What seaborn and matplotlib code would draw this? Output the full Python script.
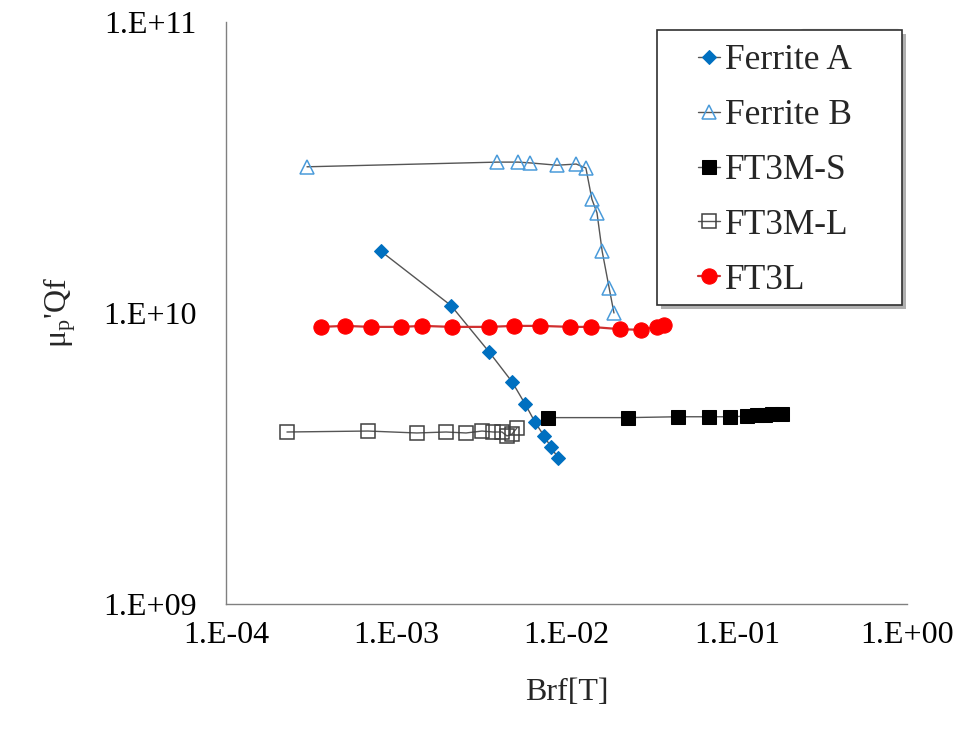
import matplotlib
matplotlib.use("Agg")
import matplotlib.pyplot as plt
import seaborn as sns
from matplotlib.ticker import FixedLocator, NullLocator
from matplotlib.patches import Rectangle

# ---------------- data ----------------
ferrite_a_x = [8.13e-4, 2.10e-3, 3.51e-3, 4.79e-3, 5.71e-3, 6.53e-3, 7.38e-3, 8.11e-3, 8.91e-3]
ferrite_a_y = [1.63e10, 1.06e10, 7.35e9, 5.80e9, 4.87e9, 4.22e9, 3.78e9, 3.46e9, 3.18e9]

ferrite_b_x = [2.99e-4, 3.91e-3, 5.19e-3, 6.10e-3, 8.80e-3, 1.14e-2, 1.30e-2, 1.41e-2,
               1.51e-2, 1.62e-2, 1.78e-2, 1.90e-2]
ferrite_b_y = [3.18e10, 3.30e10, 3.30e10, 3.28e10, 3.22e10, 3.25e10, 3.15e10, 2.46e10,
               2.21e10, 1.63e10, 1.22e10, 1.00e10]

ft3m_s_x = [7.78e-3, 2.30e-2, 4.52e-2, 6.87e-2, 9.13e-2, 0.115, 0.131, 0.147, 0.161, 0.185]
ft3m_s_y = [4.37e9, 4.37e9, 4.40e9, 4.40e9, 4.40e9, 4.42e9, 4.45e9, 4.47e9, 4.48e9, 4.50e9]

ft3m_l_x = [2.28e-4, 6.83e-4, 1.32e-3, 1.96e-3, 2.57e-3, 3.19e-3, 3.70e-3, 4.18e-3,
            4.47e-3, 4.79e-3, 5.12e-3]
ft3m_l_y = [3.90e9, 3.93e9, 3.87e9, 3.90e9, 3.87e9, 3.93e9, 3.90e9, 3.90e9,
            3.78e9, 3.84e9, 4.03e9]

ft3l_x = [3.61e-4, 5.00e-4, 7.11e-4, 1.07e-3, 1.42e-3, 2.12e-3, 3.51e-3, 4.92e-3,
          6.99e-3, 1.05e-2, 1.39e-2, 2.06e-2, 2.74e-2, 3.40e-2, 3.74e-2]
ft3l_y = [8.96e9, 9.03e9, 8.96e9, 8.96e9, 9.03e9, 8.96e9, 8.96e9, 9.03e9,
          9.03e9, 8.96e9, 8.96e9, 8.80e9, 8.75e9, 8.96e9, 9.10e9]

x_ticks = [1e-4, 1e-3, 1e-2, 1e-1, 1e0]
x_tick_labels = ["1.E-04", "1.E-03", "1.E-02", "1.E-01", "1.E+00"]
y_ticks = [1e9, 1e10, 1e11]
y_tick_labels = ["1.E+09", "1.E+10", "1.E+11"]

# ---------------- style ----------------
sns.set_style("white")
plt.rcParams["font.family"] = ["Liberation Serif", "DejaVu Serif"]
plt.rcParams["mathtext.fontset"] = "custom"
plt.rcParams["mathtext.rm"] = "Liberation Serif"
plt.rcParams["mathtext.it"] = "Liberation Serif:italic"

FS = 23
LFS = 25.5
W, H = 971, 747
fig = plt.figure(figsize=(W / 100, H / 100), dpi=100)
L, R, T, B = 226, 907, 22, 604
ax = fig.add_axes([L / W, 1 - B / H, (R - L) / W, (B - T) / H])

line_col = "#555555"

sns.lineplot(x=ferrite_a_x, y=ferrite_a_y, ax=ax, sort=False, estimator=None,
             color=line_col, lw=1.0, marker="D", markersize=6.8,
             markerfacecolor="#0070C0", markeredgecolor="#0070C0", label="Ferrite A")
sns.lineplot(x=ferrite_b_x, y=ferrite_b_y, ax=ax, sort=False, estimator=None,
             color=line_col, lw=1.0, marker="^", markersize=10.5,
             markerfacecolor="none", markeredgecolor="#4A9BDA", markeredgewidth=1.1,
             label="Ferrite B")
sns.lineplot(x=ft3m_s_x, y=ft3m_s_y, ax=ax, sort=False, estimator=None,
             color=line_col, lw=1.0, marker="s", markersize=10.5,
             markerfacecolor="black", markeredgecolor="black", label="FT3M-S")
sns.lineplot(x=ft3m_l_x, y=ft3m_l_y, ax=ax, sort=False, estimator=None,
             color=line_col, lw=1.0, marker="s", markersize=10.5,
             markerfacecolor="none", markeredgecolor="#404040", markeredgewidth=1.1,
             label="FT3M-L")
sns.lineplot(x=ft3l_x, y=ft3l_y, ax=ax, sort=False, estimator=None,
             color="#D03030", lw=1.6, marker="o", markersize=11,
             markerfacecolor="#FF0000", markeredgecolor="#FF0000", label="FT3L")

ax.set_xscale("log")
ax.set_yscale("log")
ax.set_xlim(1e-4, 1e0)
ax.set_ylim(1e9, 1e11)
ax.xaxis.set_major_locator(FixedLocator(x_ticks))
ax.yaxis.set_major_locator(FixedLocator(y_ticks))
ax.xaxis.set_minor_locator(NullLocator())
ax.yaxis.set_minor_locator(NullLocator())
ax.set_xticklabels(x_tick_labels)
ax.set_yticklabels(y_tick_labels)

for side in ["top", "right"]:
    ax.spines[side].set_visible(False)
for side in ["left", "bottom"]:
    ax.spines[side].set_color("#808080")
    ax.spines[side].set_linewidth(1.0)

ax.tick_params(axis="x", direction="in", length=7, width=1, color="#808080",
               pad=12.5, labelsize=FS, labelcolor="black")
ax.tick_params(axis="y", direction="in", length=7, width=1, color="#808080",
               pad=21, labelsize=FS, labelcolor="black")

ax.set_xlabel("Brf[T]", fontsize=FS)
ax.set_ylabel("μ$_\\mathrm{p}$'Qf", fontsize=FS)
ax.xaxis.set_label_coords(0.5, -(678 - B) / (B - T))
ax.yaxis.set_label_coords(-(226 - 78) / (R - L), 0.5)

# legend (Excel-style box with shadow)
lx0, ly0, lx1, ly1 = 657, 30, 902, 305
shadow = Rectangle(((lx0 + 4) / W, 1 - (ly1 + 4) / H), (lx1 - lx0) / W, (ly1 - ly0) / H,
                   transform=fig.transFigure, facecolor="#B0B0B0", edgecolor="none",
                   zorder=5)
frame = Rectangle((lx0 / W, 1 - ly1 / H), (lx1 - lx0) / W, (ly1 - ly0) / H,
                  transform=fig.transFigure, facecolor="white", edgecolor="#303030",
                  linewidth=1.2, zorder=6)
fig.patches.extend([shadow, frame])

handles, labels = ax.get_legend_handles_labels()
leg = fig.legend(handles, labels, loc="upper left",
                 bbox_to_anchor=(698 / W, 1 - 44 / H), bbox_transform=fig.transFigure,
                 frameon=False, fontsize=LFS, borderpad=0, borderaxespad=0,
                 handlelength=0.62, handletextpad=0.15, labelspacing=0.62)
leg.set_zorder(10)

fig.savefig("out.png", dpi=100, facecolor="white")
